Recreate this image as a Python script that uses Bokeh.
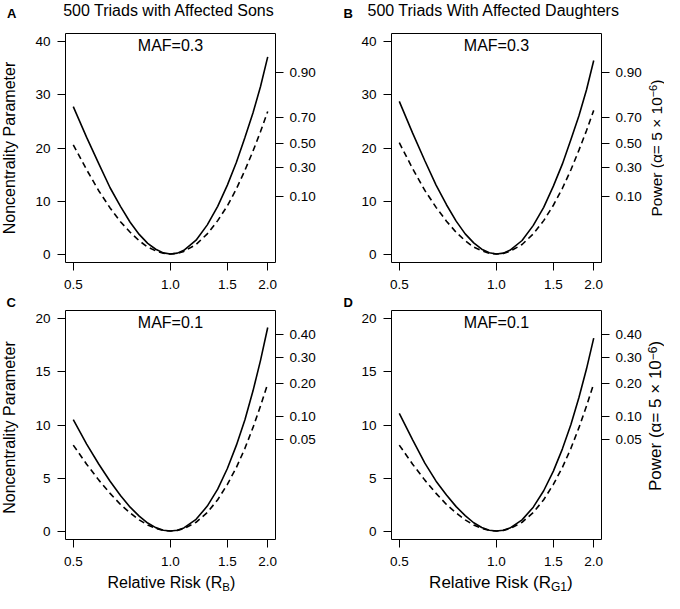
import math
from bokeh.plotting import figure
from bokeh.models import Range1d, FixedTicker, LinearAxis, Label, PrintfTickFormatter
from bokeh.layouts import column, row
from bokeh.embed import file_html
from bokeh.resources import INLINE

# ---------------- data ----------------
rr = [0.5, 0.55, 0.6, 0.65, 0.7, 0.75, 0.8, 0.85, 0.9, 0.95, 1.0, 1.05, 1.1,
      1.2, 1.3, 1.4, 1.5, 1.6, 1.7, 1.8, 1.9, 2.0]

sons_maf03_solid = [27.8, 22.0, 17.0, 12.5, 9.0, 6.0, 3.7, 2.0, 0.9, 0.22, 0, 0.17, 0.7,
                    2.6, 5.5, 9.0, 13.0, 17.3, 22.0, 26.6, 31.6, 37.2]
sons_maf03_dashed = [20.6, 15.9, 11.9, 8.7, 6.1, 4.1, 2.5, 1.3, 0.6, 0.14, 0, 0.12, 0.49,
                     1.8, 3.8, 6.3, 9.1, 12.3, 15.8, 19.4, 23.1, 26.9]
daughters_maf03_solid = [28.8, 22.8, 17.6, 13.0, 9.3, 6.2, 3.8, 2.1, 0.9, 0.23, 0, 0.17, 0.7,
                         2.55, 5.4, 8.8, 12.8, 17.0, 21.6, 26.1, 31.0, 36.5]
daughters_maf03_dashed = [21.0, 16.1, 12.0, 8.8, 6.2, 4.1, 2.5, 1.3, 0.6, 0.14, 0, 0.12, 0.49,
                          1.8, 3.8, 6.3, 9.2, 12.4, 15.9, 19.6, 23.3, 27.1]
sons_maf01_solid = [10.5, 8.2, 6.3, 4.7, 3.35, 2.25, 1.4, 0.75, 0.32, 0.08, 0, 0.075, 0.29,
                    1.1, 2.35, 3.95, 5.9, 8.1, 10.5, 13.2, 16.1, 19.2]
sons_maf01_dashed = [8.1, 6.3, 4.8, 3.55, 2.5, 1.7, 1.05, 0.57, 0.25, 0.06, 0, 0.06, 0.22,
                     0.82, 1.75, 2.95, 4.4, 6.0, 7.8, 9.75, 11.8, 13.9]
daughters_maf01_solid = [11.1, 8.6, 6.4, 4.7, 3.4, 2.3, 1.45, 0.78, 0.33, 0.08, 0, 0.07, 0.28,
                         1.05, 2.25, 3.8, 5.65, 7.75, 10.05, 12.6, 15.3, 18.2]
daughters_maf01_dashed = [8.1, 6.3, 4.8, 3.55, 2.5, 1.7, 1.05, 0.57, 0.25, 0.06, 0, 0.06, 0.22,
                          0.82, 1.75, 2.95, 4.4, 6.0, 7.8, 9.75, 11.8, 13.9]

x_ticks = [0.5, 1.0, 1.5, 2.0]
ncp_ticks_maf03 = [0, 10, 20, 30, 40]
ncp_ticks_maf01 = [0, 5, 10, 15, 20]
power_labels_maf03 = ["0.10", "0.30", "0.50", "0.70", "0.90"]
power_ncp_maf03 = [10.8, 16.4, 20.8, 25.8, 34.2]
power_labels_maf01 = ["0.05", "0.10", "0.20", "0.30", "0.40"]
power_ncp_maf01 = [8.6, 10.8, 13.9, 16.4, 18.5]

titles = ["500 Triads with Affected Sons", "500 Triads With Affected Daughters"]
FONT = "Liberation Sans"

# ---------------- layout ----------------
lx0, lx1 = math.log10(0.5), math.log10(2.0)
pad = 0.04 * (lx1 - lx0)
XS, XE = 10 ** (lx0 - pad), 10 ** (lx1 + pad)
FW, FH = 210, 229
UP = math.pi / 2
BASE_FIX = 0.33   # baseline correction (fraction of the font size)


def style_axis(ax, standoff=7):
    ax.axis_line_color = None
    ax.major_tick_line_color = "black"
    ax.major_tick_line_width = 1
    ax.major_tick_out = 8
    ax.major_tick_in = 0
    ax.minor_tick_line_color = None
    ax.major_label_text_font = FONT
    ax.major_label_text_font_size = "13.5px"
    ax.major_label_text_color = "black"
    ax.major_label_standoff = standoff


def lab(p, text, fx, fy, fs=16, style="normal", align="left", angle=0.0):
    d = BASE_FIX * fs
    if angle:
        fx -= d
    else:
        fy += d
    p.add_layout(Label(x=fx, y=fy, x_units="screen", y_units="screen", text=text,
                       text_font=FONT, text_font_size=f"{fs}px", text_font_style=style,
                       text_align=align, text_baseline="alphabetic", angle=angle,
                       text_color="black", level="overlay"))


def strip(w, h):
    s = figure(width=w, height=h, x_range=Range1d(0, w), y_range=Range1d(0, h),
               x_axis_type=None, y_axis_type=None, output_backend="svg",
               toolbar_location=None, min_border=0)
    s.outline_line_color = None
    s.background_fill_color = "white"
    s.border_fill_color = "white"
    s.grid.visible = False
    return s


def panel(solid, dashed, yr, yticks, pticks, plabels, w, h, bl, br):
    p = figure(width=w, height=h, x_axis_type="log", x_range=Range1d(XS, XE),
               y_range=Range1d(*yr), output_backend="svg", toolbar_location=None,
               min_border_left=bl, min_border_right=br, min_border_top=0,
               min_border_bottom=h - FH)
    p.xgrid.visible = False
    p.ygrid.visible = False
    p.background_fill_color = "white"
    p.border_fill_color = "white"
    p.outline_line_color = "black"
    p.outline_line_width = 1
    p.outline_line_alpha = 1

    p.xaxis.ticker = FixedTicker(ticks=x_ticks)
    p.xaxis.formatter = PrintfTickFormatter(format="%.1f")
    p.yaxis.ticker = FixedTicker(ticks=yticks)
    style_axis(p.xaxis[0], standoff=9)
    style_axis(p.yaxis[0], standoff=7)

    ra = LinearAxis(ticker=FixedTicker(ticks=pticks),
                    major_label_overrides={t: l for t, l in zip(pticks, plabels)})
    style_axis(ra, standoff=6)
    p.add_layout(ra, "right")

    p.line(rr, solid, line_color="black", line_width=1.6)
    p.line(rr, dashed, line_color="black", line_width=1.6, line_dash="6 4")
    return p


YR_TOP = (-1.6, 41.6)
YR_BOT = (-0.8, 20.8)

pa = panel(sons_maf03_solid, sons_maf03_dashed, YR_TOP, ncp_ticks_maf03,
           power_ncp_maf03, power_labels_maf03, 318, 263, 43, 65)
pb = panel(daughters_maf03_solid, daughters_maf03_dashed, YR_TOP, ncp_ticks_maf03,
           power_ncp_maf03, power_labels_maf03, 304, 263, 51, 43)
pc = panel(sons_maf01_solid, sons_maf01_dashed, YR_BOT, ncp_ticks_maf01,
           power_ncp_maf01, power_labels_maf01, 318, 263, 43, 65)
pd = panel(daughters_maf01_solid, daughters_maf01_dashed, YR_BOT, ncp_ticks_maf01,
           power_ncp_maf01, power_labels_maf01, 304, 263, 51, 43)

# MAF annotations (inside the frames)
lab(pa, "MAF=0.3", FW / 2, 212, align="center")
lab(pb, "MAF=0.3", FW / 2, 212, align="center")
lab(pc, "MAF=0.1", FW / 2, 211.4, align="center")
lab(pd, "MAF=0.1", FW / 2, 211.4, align="center")

# ---- text strips around the panels ----
top = strip(664, 33)          # canvas y 0..33
lab(top, "A", 6.5, 15.7, fs=13, style="bold")
lab(top, titles[0], 62.7, 18)
lab(top, "B", 343, 15.7, fs=13, style="bold")
lab(top, titles[1], 367, 18)

left = strip(22, 540)         # canvas x 0..22, y 33..573
lab(left, "Noncentrality Parameter", 14.5, 573 - 147.5, align="center", angle=UP)
lab(left, "Noncentrality Parameter", 14.5, 573 - 427, align="center", angle=UP)
lab(left, "C", 6, 573 - 306, fs=13, style="bold")

mid = strip(622, 14)          # canvas x 22..644, y 296..310
lab(mid, "D", 343 - 22, 4, fs=13, style="bold")

right = strip(20, 540)        # canvas x 644..664, y 33..573


def power_title(fy, fs, w_main, w_sup, sup_fs):
    lab(right, "Power (\u03b1= 5 \u00d7 10", 17, fy, fs=fs, angle=UP)
    lab(right, "\u22126", 17 - 0.4 * fs + BASE_FIX * (sup_fs - fs) * -1, fy + w_main,
        fs=sup_fs, angle=UP)
    lab(right, ")", 17, fy + w_main + w_sup, fs=fs, angle=UP)


power_title(573 - 216, 15.5, 119.2, 12.5, 11)
power_title(573 - 490.5, 17, 130.8, 13.7, 12)

bottom = strip(664, 20)       # canvas y 573..593


def x_title(x0, sub, fs, w_main, sub_fs, sub_w):
    lab(bottom, "Relative Risk (R", x0, 5.5, fs=fs)
    lab(bottom, sub, x0 + w_main, 2.8, fs=sub_fs)
    lab(bottom, ")", x0 + w_main + sub_w, 5.5, fs=fs)


x_title(107, "B", 16, 114.7, 11.5, 7.7)
x_title(428.6, "G1", 17, 121.8, 12, 16.0)

layout = column(
    top,
    row(left, column(row(pa, pb), mid, row(pc, pd)), right),
    bottom,
)
open("out.html", "w").write(file_html(layout, INLINE))
